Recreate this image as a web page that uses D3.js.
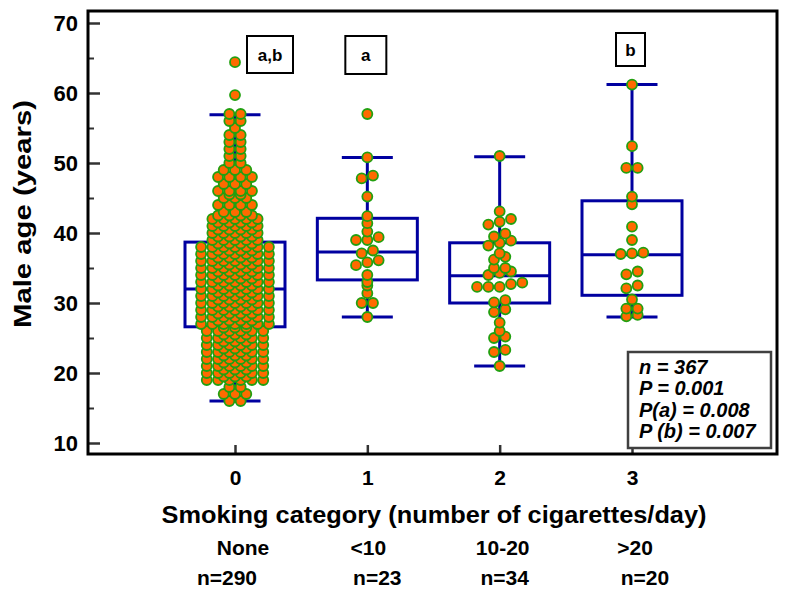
<!DOCTYPE html>
<html><head><meta charset="utf-8">
<script src="https://cdn.jsdelivr.net/npm/d3@7"></script>
<style>
body{margin:0;background:#fff}
svg{display:block}
text{font-family:"Liberation Sans",Arial,Helvetica,sans-serif;font-weight:bold;fill:#000}
</style>
</head><body>
<svg id="chart" width="786" height="605"></svg>
<script>
// ---------------- DATA ----------------
const categories = [0, 1, 2, 3];
const categoryNames = ["None", "<10", "10-20", ">20"];
const categoryCounts = ["n=290", "n=23", "n=34", "n=20"];
const groupLetters = ["a,b", "a", "", "b"];
const yTicks = [10, 20, 30, 40, 50, 60, 70];
const yMinorTicks = [15, 25, 35, 45, 55, 65];
const statsLines = ["n = 367", "P = 0.001", "P(a) = 0.008", "P (b) = 0.007"];

// Male age (years) for each smoking category
const ages0 = [
  16,16, 17,17,17, 18,18,
  19,19,19,19,19,19, 19.5,19.5,19.5,
  20,20,20,20,20,20, 20.5,20.5,20.5,
  21,21,21,21,21,21, 21.5,21.5,21.5,
  22,22,22,22,22,22, 22.5,22.5,22.5,
  23,23,23,23,23,23, 23.5,23.5,23.5,
  24,24,24,24,24,24, 24.5,24.5,24.5,
  25,25,25,25,25,25, 25.5,25.5,25.5,
  26,26,26,26,26,26, 26.5,26.5,26.5,
  27,27,27,27,27,27,27, 27.5,27.5,27.5,27.5,
  28,28,28,28,28,28,28, 28.5,28.5,28.5,28.5,
  29,29,29,29,29,29,29, 29.5,29.5,29.5,29.5,
  30,30,30,30,30,30,30, 30.5,30.5,30.5,30.5,
  31,31,31,31,31,31,31, 31.5,31.5,31.5,31.5,
  32,32,32,32,32,32,32, 32.5,32.5,32.5,32.5,
  33,33,33,33,33,33,33, 33.5,33.5,33.5,33.5,
  34,34,34,34,34,34,34, 34.5,34.5,34.5,34.5,
  35,35,35,35,35,35,35, 35.5,35.5,35.5,35.5,
  36,36,36,36,36,36,36, 36.5,36.5,36.5,36.5,
  37,37,37,37,37,37,37, 37.5,37.5,37.5,37.5,
  38,38,38,38,38,38,38, 38.5,38.5,38.5,38.5,
  39,39,39,39,39, 39.5,39.5,39.5,39.5,
  40,40,40,40,40, 40.5,40.5,40.5,40.5,
  41,41,41,41,41, 41.5,41.5,41.5,41.5,
  42,42,42,42,42, 42.5,42.5,42.5,42.5,
  43,43,43, 44,44,44,44, 45,45,45, 45.5,45.5, 46,46,46,46, 47,47,47, 48,48,48,48, 49,49,49,
  50,50, 51,51, 52,52, 53,53, 54,54, 55, 56,56, 57,57, 59.7, 64.4
];
const ages1 = [57.0, 50.8, 48.2, 47.8, 45.2, 42.4, 41.4, 40.2, 39.4, 39.0, 39.0,
  37.5, 37.1, 36.1, 35.8, 35.4, 34.0, 33.0, 32.5, 31.4, 30.0, 30.0, 28.0];
const ages2 = [51.0, 43.1, 42.0, 41.6, 41.2, 39.9, 39.5, 38.9, 38.6, 38.2,
  37.1, 36.6, 36.2, 35.0, 35.0, 34.5, 34.3, 34.0, 32.9, 32.7,
  32.3, 32.3, 32.3, 30.4, 30.1, 29.1, 28.7, 27.2, 26.0, 25.2,
  25.0, 23.3, 23.0, 21.0];
const ages3 = [61.2, 52.4, 49.3, 49.3, 45.2, 44.1, 40.9, 39.0, 37.2, 37.1, 37.0,
  34.5, 34.1, 32.5, 32.1, 30.5, 29.2, 29.2, 28.3, 28.1];

// Box-plot summary values (years)
const boxQ1 = [26.6, 33.3, 30.0, 31.1];
const boxMedian = [32.0, 37.3, 33.9, 36.9];
const boxQ3 = [38.7, 42.1, 38.6, 44.6];
const whiskerLow = [16.0, 28.0, 21.0, 28.0];
const whiskerHigh = [56.9, 50.8, 50.9, 61.2];

// ---------------- LAYOUT / STYLE ----------------
const frame = {left: 88, right: 777, top: 11, bottom: 454};
const boxColor = "#0000a0";
const dotFill = "#ff6a00";
const dotStroke = "#22a010";
const dotR = 5;
const pitch = 11.3;
const clusterTol = 0.45;
const boxHalf = 50, capHalf = 25.5;
const letterBox = [
  {dx: 35, w: 46, top: 36, h: 37},
  {dx: -1.5, w: 41, top: 36, h: 38},
  null,
  {dx: -1.5, w: 29, top: 33, h: 33}
];
const nameDx = [8, 1, 3, 3];
const countDx = [-8, 10, 5, 13];

const svg = d3.select("#chart");
const x = d3.scaleLinear().domain([0, 3]).range([235, 632]);
const y = d3.scaleLinear().domain([10, 70]).range([443, 23]);

// ---- Y axis ticks (inside) ----
const yAxis = d3.axisLeft(y).tickValues(yTicks).tickSizeInner(-12).tickSizeOuter(0).tickPadding(10)
  .tickFormat(d3.format("d"));
const gy = svg.append("g").attr("transform", `translate(${frame.left},0)`).call(yAxis);
gy.select(".domain").remove();
gy.selectAll(".tick line").attr("stroke", "#333").attr("stroke-width", 2.5);
gy.selectAll(".tick text").style("font-size", "22px").style("font-weight", "bold").attr("fill", "#000");

const yMinor = d3.axisLeft(y).tickValues(yMinorTicks).tickSizeInner(-6).tickSizeOuter(0).tickFormat("");
const gym = svg.append("g").attr("transform", `translate(${frame.left},0)`).call(yMinor);
gym.select(".domain").remove();
gym.selectAll(".tick line").attr("stroke", "#333").attr("stroke-width", 2);

// ---- X axis ticks (inside) ----
const xAxis = d3.axisBottom(x).tickValues(categories).tickSizeInner(-9).tickSizeOuter(0).tickPadding(16)
  .tickFormat(d3.format("d"));
const gx = svg.append("g").attr("transform", `translate(0,${frame.bottom})`).call(xAxis);
gx.select(".domain").remove();
gx.selectAll(".tick line").attr("stroke", "#333").attr("stroke-width", 2.5);
gx.selectAll(".tick text").style("font-size", "21px").style("font-weight", "bold").attr("fill", "#000");

// ---- frame ----
svg.append("rect")
  .attr("x", frame.left).attr("y", frame.top)
  .attr("width", frame.right - frame.left).attr("height", frame.bottom - frame.top)
  .attr("fill", "none").attr("stroke", "#000").attr("stroke-width", 3);

// ---- boxes ----
const gb = svg.append("g").attr("stroke", boxColor).attr("stroke-width", 3).attr("fill", "none");
categories.forEach((c, i) => {
  const cx = x(c);
  gb.append("rect").attr("x", cx - boxHalf).attr("y", y(boxQ3[i]))
    .attr("width", boxHalf * 2).attr("height", y(boxQ1[i]) - y(boxQ3[i]));
  gb.append("line").attr("x1", cx - boxHalf).attr("x2", cx + boxHalf)
    .attr("y1", y(boxMedian[i])).attr("y2", y(boxMedian[i]));
  gb.append("line").attr("x1", cx).attr("x2", cx).attr("y1", y(boxQ3[i])).attr("y2", y(whiskerHigh[i]));
  gb.append("line").attr("x1", cx).attr("x2", cx).attr("y1", y(boxQ1[i])).attr("y2", y(whiskerLow[i]));
  gb.append("line").attr("x1", cx - capHalf).attr("x2", cx + capHalf)
    .attr("y1", y(whiskerHigh[i])).attr("y2", y(whiskerHigh[i]));
  gb.append("line").attr("x1", cx - capHalf).attr("x2", cx + capHalf)
    .attr("y1", y(whiskerLow[i])).attr("y2", y(whiskerLow[i]));
});

// ---- dots: near-equal values are laid out in centred rows ----
function rowLayout(values) {
  const s = values.slice().sort((a, b) => a - b);
  const rows = [];
  s.forEach(v => {
    const last = rows[rows.length - 1];
    if (last && v - last[last.length - 1] <= clusterTol + 1e-9) last.push(v);
    else rows.push([v]);
  });
  const out = [];
  rows.forEach(r => r.forEach((v, k) => out.push({v, dx: (k - (r.length - 1) / 2) * pitch})));
  return out;
}
const groups = [ages0, ages1, ages2, ages3];
const gd = svg.append("g");
groups.forEach((vals, i) => {
  gd.append("g").selectAll("circle").data(rowLayout(vals)).join("circle")
    .attr("cx", d => x(categories[i]) + d.dx)
    .attr("cy", d => y(d.v))
    .attr("r", dotR)
    .attr("fill", dotFill).attr("stroke", dotStroke).attr("stroke-width", 1.8);
});

// ---- group letters ----
categories.forEach((c, i) => {
  const lb = letterBox[i];
  if (!lb || !groupLetters[i]) return;
  const cx = x(c) + lb.dx;
  svg.append("rect").attr("x", cx - lb.w / 2).attr("y", lb.top).attr("width", lb.w).attr("height", lb.h)
    .attr("fill", "#fff").attr("stroke", "#000").attr("stroke-width", 2);
  svg.append("text").attr("x", cx).attr("y", lb.top + lb.h / 2 + 6).attr("text-anchor", "middle")
    .style("font-size", "17px").text(groupLetters[i]);
});

// ---- stats box ----
svg.append("rect").attr("x", 628).attr("y", 352).attr("width", 143).attr("height", 96)
  .attr("fill", "#fff").attr("stroke", "#404040").attr("stroke-width", 2.5);
svg.append("g").selectAll("text").data(statsLines).join("text")
  .attr("x", 639).attr("y", (d, i) => 373.5 + i * 21.5)
  .style("font-size", "20px").style("font-style", "italic").text(d => d);

// ---- axis titles ----
svg.append("text").attr("transform", "translate(31,214) rotate(-90)").attr("text-anchor", "middle")
  .style("font-size", "24px").attr("textLength", 228).attr("lengthAdjust", "spacingAndGlyphs")
  .text("Male age (years)");
svg.append("text").attr("x", 434).attr("y", 523).attr("text-anchor", "middle")
  .style("font-size", "23px").attr("textLength", 545).attr("lengthAdjust", "spacingAndGlyphs")
  .text("Smoking category (number of cigarettes/day)");
svg.append("g").selectAll("text").data(categoryNames).join("text")
  .attr("x", (d, i) => x(categories[i]) + nameDx[i]).attr("y", 555).attr("text-anchor", "middle")
  .style("font-size", "21px").text(d => d);
svg.append("g").selectAll("text").data(categoryCounts).join("text")
  .attr("x", (d, i) => x(categories[i]) + countDx[i]).attr("y", 585).attr("text-anchor", "middle")
  .style("font-size", "21px").text(d => d);
</script>
</body></html>
